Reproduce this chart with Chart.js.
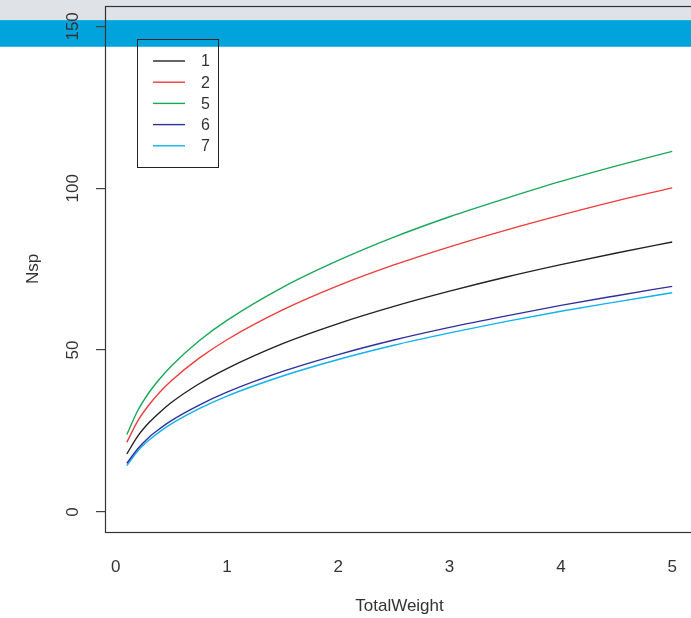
<!DOCTYPE html>
<html lang="en">
<head>
<meta charset="UTF-8">
<title>Nsp vs TotalWeight</title>
<script src="https://cdn.jsdelivr.net/npm/chart.js"></script>
<style>
  html, body { margin: 0; padding: 0; overflow: hidden; }
  body {
    width: 691px; height: 618px;
    background: linear-gradient(to bottom, #dfe2e7 0, #dfe2e7 20px, #3db8e6 20px, #00a3dc 21px, #00a3dc 46px, #3db8e6 46px, #3db8e6 47px, #ffffff 47px);
  }
  #wrap { width: 700px; height: 618px; }
</style>
</head>
<body>
<div id="wrap"><canvas id="c" width="700" height="618"></canvas></div>
<script>
// values
const weights = [0.1, 0.2, 0.3, 0.4, 0.5, 0.75, 1, 1.5, 2, 2.5, 3, 3.5, 4, 4.5, 5];
const nsp1 = [17.9, 23.5, 27.6, 30.9, 33.8, 39.6, 44.3, 52.0, 58.2, 63.5, 68.2, 72.5, 76.4, 80.0, 83.4];
const nsp2 = [21.5, 28.2, 33.1, 37.1, 40.5, 47.5, 53.2, 62.4, 69.9, 76.3, 81.9, 87.0, 91.7, 96.1, 100.1];
const nsp5 = [23.9, 31.4, 36.9, 41.3, 45.1, 52.9, 59.2, 69.4, 77.7, 84.9, 91.2, 96.8, 102.1, 106.9, 111.4];
const nsp6 = [15.0, 19.6, 23.1, 25.8, 28.2, 33.0, 37.0, 43.4, 48.6, 53.1, 57.0, 60.5, 63.8, 66.8, 69.7];
const nsp7 = [14.3, 18.9, 22.2, 24.9, 27.2, 31.9, 35.8, 42.0, 47.1, 51.5, 55.3, 58.8, 62.0, 64.9, 67.7];
const seriesNames = ["1", "2", "5", "6", "7"];
const seriesColors = ["#222222", "#f03c3c", "#1aa858", "#30309c", "#10b2ee"];
const xTicks = [0, 1, 2, 3, 4, 5];
const yTicks = [0, 50, 100, 150];

const FONT = "'Liberation Sans', Arial, sans-serif";
const TXT = "#333333";

const allSeries = [nsp1, nsp2, nsp5, nsp6, nsp7];
const datasets = allSeries.map((vals, i) => ({
  label: seriesNames[i],
  data: weights.map((w, j) => ({ x: w, y: vals[j] })),
  borderColor: seriesColors[i],
  borderWidth: 1.4,
  pointRadius: 0,
  showLine: true,
  fill: false,
  cubicInterpolationMode: "monotone"
}));

// box, rotated y labels, titles and the inset legend, R style
const rDecor = {
  id: "rDecor",
  afterDraw(chart) {
    const ctx = chart.ctx;
    const a = chart.chartArea;
    const ys = chart.scales.y;
    ctx.save();
    ctx.strokeStyle = "#333";
    ctx.lineWidth = 1.2;
    ctx.strokeRect(a.left + 0.5, a.top + 0.5, a.right - a.left, a.bottom - a.top);

    ctx.fillStyle = TXT;
    ctx.font = "17px " + FONT;
    ctx.textAlign = "center";
    ctx.textBaseline = "middle";
    yTicks.forEach(v => {
      ctx.save();
      ctx.translate(73, ys.getPixelForValue(v));
      ctx.rotate(-Math.PI / 2);
      ctx.fillText(String(v), 0, 0);
      ctx.restore();
    });
    ctx.save();
    ctx.translate(33, (a.top + a.bottom) / 2);
    ctx.rotate(-Math.PI / 2);
    ctx.fillText("Nsp", 0, 0);
    ctx.restore();
    ctx.fillText("TotalWeight", (a.left + a.right) / 2, 606);

    // legend
    ctx.strokeStyle = "#222";
    ctx.lineWidth = 1;
    ctx.strokeRect(137.5, 39.5, 81, 128);
    ctx.font = "16px " + FONT;
    ctx.textAlign = "left";
    chart.data.datasets.forEach((ds, i) => {
      const y = 61 + i * 21.2;
      ctx.strokeStyle = ds.borderColor;
      ctx.lineWidth = 1.4;
      ctx.beginPath();
      ctx.moveTo(153, y);
      ctx.lineTo(185, y);
      ctx.stroke();
      ctx.fillStyle = TXT;
      ctx.fillText(ds.label, 201, y + 1);
    });
    ctx.restore();
  }
};

new Chart(document.getElementById("c").getContext("2d"), {
  type: "scatter",
  data: { datasets: datasets },
  plugins: [rDecor],
  options: {
    responsive: false,
    animation: false,
    layout: { padding: { top: 6, right: 6, left: 0, bottom: 0 } },
    plugins: { legend: { display: false }, tooltip: { enabled: false } },
    scales: {
      x: {
        type: "linear",
        min: -0.096,
        max: 5.196,
        afterBuildTicks: s => { s.ticks = xTicks.map(v => ({ value: v })); },
        afterFit: s => { s.height = 86; },
        grid: { display: false },
        border: { display: false },
        ticks: { color: TXT, font: { family: FONT, size: 17 }, padding: 17, maxRotation: 0 }
      },
      y: {
        type: "linear",
        min: -6.2,
        max: 156.3,
        afterBuildTicks: s => { s.ticks = yTicks.map(v => ({ value: v })); },
        afterFit: s => { s.width = 105; },
        grid: { drawOnChartArea: false, drawTicks: true, tickLength: 9, color: "#444", lineWidth: 1.2 },
        border: { display: false },
        ticks: { display: false }
      }
    }
  }
});
</script>
</body>
</html>
